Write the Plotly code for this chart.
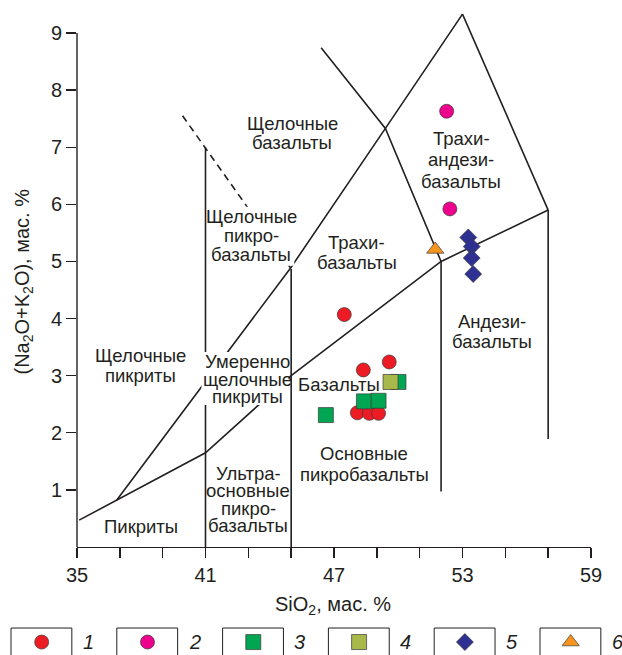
import plotly.graph_objects as go

# ---------------- data ----------------
groups = ["1", "2", "3", "4", "5", "6"]
g_colors = ["#ED1C24", "#EC008C", "#00A651", "#A9B84A", "#2E3192", "#F7941D"]
g_symbols = ["circle", "circle", "square", "square", "diamond", "triangle-up"]
g_sizes = [14, 14, 15, 15, 13, 15]

sio2 = {
    "1": [47.48, 48.37, 49.58, 48.09, 48.65, 49.08],
    "2": [52.26, 52.41],
    "3": [46.62, 48.40, 49.08, 50.01],
    "4": [49.64],
    "5": [53.27, 53.43, 53.43, 53.50],
    "6": [51.73],
}
alk = {
    "1": [4.07, 3.10, 3.24, 2.35, 2.34, 2.34],
    "2": [7.63, 5.92],
    "3": [2.31, 2.55, 2.56, 2.89],
    "4": [2.89],
    "5": [5.42, 5.26, 5.06, 4.78],
    "6": [5.21],
}

# field boundaries (SiO2, Na2O+K2O)
bnd_alkaline_x = [36.85, 45.0, 49.4, 53.0]
bnd_alkaline_y = [0.82, 4.9, 7.33, 9.33]
bnd_lower_x = [35.1, 36.85, 41.0, 45.0, 52.0, 57.0]
bnd_lower_y = [0.47, 0.82, 1.65, 3.0, 5.0, 5.9]
bnd_v41_x = [41.0, 41.0]
bnd_v41_y = [0.0, 7.0]
bnd_v45_x = [45.0, 45.0]
bnd_v45_y = [0.0, 4.87]
bnd_v52_x = [52.0, 52.0]
bnd_v52_y = [0.97, 5.0]
bnd_v57_x = [57.0, 57.0]
bnd_v57_y = [1.89, 5.9]
bnd_right_x = [53.0, 57.0]
bnd_right_y = [9.33, 5.9]
bnd_trachy_x = [46.4, 49.4, 52.0]
bnd_trachy_y = [8.74, 7.33, 5.0]
bnd_dashed_x = [39.93, 45.0]
bnd_dashed_y = [7.55, 4.87]

label_text = [
    ["Щелочные", "базальты"],
    ["Трахи-", "андези-", "базальты"],
    ["Щелочные", "пикро-", "базальты"],
    ["Трахи-", "базальты"],
    ["Андези-", "базальты"],
    ["Щелочные", "пикриты"],
    ["Умеренно", "щелочные", "пикриты"],
    ["Базальты"],
    ["Основные", "пикробазальты"],
    ["Ультра-", "основные", "пикро-", "базальты"],
    ["Пикриты"],
]
label_x = [45.06, 52.93, 43.14, 48.06, 54.37, 37.97, 42.96, 47.25, 48.42, 43.0, 37.98]
label_y = [7.25, 6.78, 5.45, 5.15, 3.77, 3.18, 2.94, 2.84, 1.445, 0.83, 0.355]

x_major_step = 6
x_minor_step = 2
y_ticks = list(range(1, 10))
y_ticklabels = [str(v) for v in y_ticks]

# ---------------- layout / style constants ----------------
W, H = 622, 655
X_RANGE = [35, 59]
Y_RANGE = [0, 9.5]
Y_AXIS_TOP = 9
LINE = "#231F20"
FONT = "Liberation Sans, Arial, sans-serif"
LABEL_SIZE = 18.5
label_spacing = [19, 21.5, 19, 20, 20, 20.7, 17.5, 0, 21, 17.5, 0]
# white knock-out boxes behind some labels, in pixels around the label centre
label_knockout = {2: (-43, 43, -30, 29), 6: (-46, 41, -26, 27)}

px_left, px_right = 77, 591
px_bottom, px_top = 547, 547 - 9.5 * 57.11

fig = go.Figure()

boundaries = [
    (bnd_alkaline_x, bnd_alkaline_y, "solid"),
    (bnd_lower_x, bnd_lower_y, "solid"),
    (bnd_v41_x, bnd_v41_y, "solid"),
    (bnd_v45_x, bnd_v45_y, "solid"),
    (bnd_v52_x, bnd_v52_y, "solid"),
    (bnd_v57_x, bnd_v57_y, "solid"),
    (bnd_right_x, bnd_right_y, "solid"),
    (bnd_trachy_x, bnd_trachy_y, "solid"),
    (bnd_dashed_x, bnd_dashed_y, "7px,5px"),
]
for bx, by, dash in boundaries:
    fig.add_trace(go.Scatter(x=bx, y=by, mode="lines",
                             line=dict(color=LINE, width=1.6, dash=dash),
                             hoverinfo="skip", showlegend=False))

for g, c, s, sz in zip(groups, g_colors, g_symbols, g_sizes):
    fig.add_trace(go.Scatter(x=sio2[g], y=alk[g], mode="markers", name=g,
                             marker=dict(color=c, symbol=s, size=sz, opacity=1,
                                         line=dict(color="#3a3a3a", width=0.7)),
                             showlegend=False))

# legend row drawn on its own small axes
leg_k = list(range(1, len(groups) + 1))
fig.add_trace(go.Scatter(x=leg_k, y=[0.37] * len(groups), mode="markers",
                         xaxis="x2", yaxis="y2",
                         marker=dict(color=g_colors, symbol=g_symbols, size=g_sizes,
                                     opacity=1,
                                     line=dict(color="#3a3a3a", width=0.7)),
                         showlegend=False, hoverinfo="skip"))

shapes = []
annotations = []
for k, g in zip(leg_k, groups):
    shapes.append(dict(type="rect", xref="x2", yref="y2",
                       x0=k - 0.29, x1=k + 0.285, y0=-0.5, y1=0.771,
                       line=dict(color=LINE, width=1), fillcolor="rgba(0,0,0,0)"))
    annotations.append(dict(xref="x2", yref="y2", x=k + 0.37, y=0.37,
                            text="<i>" + g + "</i>", showarrow=False,
                            xanchor="left", yanchor="middle",
                            font=dict(family=FONT, size=20, color=LINE)))

# y axis line (only up to 9)
shapes.append(dict(type="line", xref="paper", yref="paper",
                   x0=px_left / W, x1=px_left / W,
                   y0=(H - px_bottom) / H,
                   y1=(H - px_bottom) / H + (Y_AXIS_TOP / Y_RANGE[1]) * ((px_bottom - px_top) / H),
                   line=dict(color=LINE, width=1.4)))

# white knock-out boxes (above the lines, below the texts)
for idx, (bx0, bx1, by0, by1) in label_knockout.items():
    shapes.append(dict(type="rect", xref="x", yref="y",
                       xsizemode="pixel", ysizemode="pixel",
                       xanchor=label_x[idx], yanchor=label_y[idx],
                       x0=bx0, x1=bx1, y0=by0, y1=by1,
                       fillcolor="white", line=dict(width=0), layer="above"))

for lines, lx, ly, sp in zip(label_text, label_x, label_y, label_spacing):
    n = len(lines)
    for i, t in enumerate(lines):
        annotations.append(dict(xref="x", yref="y", x=lx, y=ly, text=t, showarrow=False,
                                xanchor="center", yanchor="middle",
                                yshift=((n - 1) / 2 - i) * sp,
                                font=dict(family=FONT, size=LABEL_SIZE, color=LINE)))

annotations.append(dict(xref="paper", yref="paper", x=333 / W, y=(H - 605) / H,
                        text="SiO<sub>2</sub>, мас. %", showarrow=False,
                        xanchor="center", yanchor="middle",
                        font=dict(family=FONT, size=20, color=LINE)))
annotations.append(dict(xref="paper", yref="paper", x=23 / W, y=(H - 281.5) / H,
                        text="(Na<sub>2</sub>O+K<sub>2</sub>O), мас. %", showarrow=False,
                        textangle=-90, xanchor="center", yanchor="middle",
                        font=dict(family=FONT, size=20, color=LINE)))

fig.update_layout(
    width=W, height=H,
    margin=dict(l=0, r=0, t=0, b=0),
    paper_bgcolor="white", plot_bgcolor="white",
    showlegend=False,
    xaxis=dict(domain=[px_left / W, px_right / W], range=X_RANGE,
               showgrid=False, zeroline=False, showline=True,
               linecolor=LINE, linewidth=1.4,
               ticks="outside", ticklen=10, tickwidth=1.4, tickcolor=LINE,
               tick0=X_RANGE[0], dtick=x_major_step,
               minor=dict(tick0=X_RANGE[0], dtick=x_minor_step, ticks="outside",
                          ticklen=10, tickwidth=1.4, tickcolor=LINE, showgrid=False),
               tickfont=dict(family=FONT, size=20, color=LINE),
               automargin=False, fixedrange=True),
    yaxis=dict(domain=[(H - px_bottom) / H, (H - px_top) / H], range=Y_RANGE,
               showgrid=False, zeroline=False, showline=False,
               ticks="outside", ticklen=10, tickwidth=1.4, tickcolor=LINE,
               tickvals=y_ticks, ticktext=y_ticklabels,
               tickfont=dict(family=FONT, size=20, color=LINE),
               automargin=False, fixedrange=True),
    xaxis2=dict(domain=[0, 1], range=[0.606, 6.485], visible=False,
                anchor="y2", fixedrange=True),
    yaxis2=dict(domain=[0, 35 / H], range=[0, 1], visible=False,
                anchor="x2", fixedrange=True),
    shapes=shapes,
    annotations=annotations,
)

fig.write_html("out.html",
               config={"displayModeBar": False, "staticPlot": True},
               post_script="document.body.style.margin='0';document.body.style.overflow='hidden';")
